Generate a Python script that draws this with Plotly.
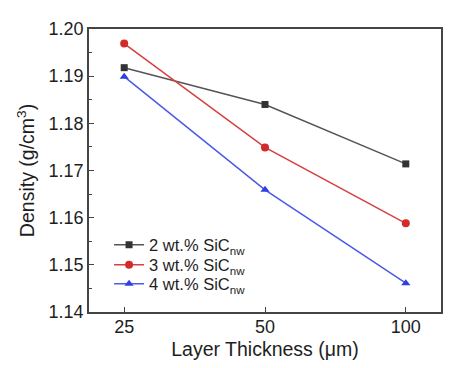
import plotly.graph_objects as go

categories = ["25", "50", "100"]
series_names = ["2 wt.% SiC<sub>nw</sub>", "3 wt.% SiC<sub>nw</sub>", "4 wt.% SiC<sub>nw</sub>"]
density_2wt = [1.1918, 1.1840, 1.1714]
density_3wt = [1.1969, 1.1749, 1.1588]
density_4wt = [1.1899, 1.1659, 1.1461]
y_ticks = [1.14, 1.15, 1.16, 1.17, 1.18, 1.19, 1.20]

colors = ["#333333", "#d42a2a", "#2f3fe0"]
line_colors = ["#555555", "#d64040", "#4a5ae6"]
symbols = ["square", "circle", "triangle-up"]
sizes = [7, 8, 8]
legend_ids = ["legend", "legend2", "legend3"]
legend_y = [0.237, 0.166, 0.099]

fig = go.Figure()
for name, vals, c, lc, s, sz, lid in zip(series_names, [density_2wt, density_3wt, density_4wt],
                                        colors, line_colors, symbols, sizes, legend_ids):
    fig.add_trace(go.Scatter(
        x=categories, y=vals, name=name, mode="lines+markers",
        line=dict(color=lc, width=1.5),
        marker=dict(symbol=s, size=sz, color=c),
        legend=lid,
    ))

font_family = "Liberation Sans, Arial, sans-serif"
legend_common = dict(x=0.057, xanchor="left", yanchor="middle",
                     bgcolor="rgba(0,0,0,0)", font=dict(size=16.5, color="#1e1e1e"),
                     itemwidth=30)
layout_legends = {lid: dict(legend_common, y=ly) for lid, ly in zip(legend_ids, legend_y)}

# page body has an 8px default margin, so the figure is sized/offset to compensate
fig.update_layout(
    width=456, height=352,
    margin=dict(l=81, r=23, t=21, b=48, autoexpand=False),
    paper_bgcolor="white", plot_bgcolor="white",
    font=dict(family=font_family, color="#1e1e1e", size=18),
    showlegend=True,
    **layout_legends,
    xaxis=dict(type="category", range=[-0.25, 2.25], automargin=False,
               showline=True, linecolor="#444", linewidth=1.5, mirror=True,
               ticks="inside", ticklen=5, tickcolor="#444", tickwidth=1.2,
               showgrid=False, zeroline=False, ticklabelstandoff=-2,
               title=dict(text="Layer Thickness (μm)", font=dict(size=19.5), standoff=6),
               tickfont=dict(size=18)),
    yaxis=dict(range=[1.14, 1.20], tickvals=y_ticks, tickformat=".2f", automargin=False,
               showline=True, linecolor="#444", linewidth=1.5, mirror=True,
               ticks="inside", ticklen=5, tickcolor="#444", tickwidth=1.2,
               minor=dict(ticks="inside", ticklen=3, dtick=0.005, tickcolor="#444", tickwidth=1),
               showgrid=False, zeroline=False, ticklabelstandoff=0,
               title=dict(text="Density (g/cm<sup>3</sup>)", font=dict(size=19.5), standoff=9),
               tickfont=dict(size=18)),
)

fig.write_html("out.html")
